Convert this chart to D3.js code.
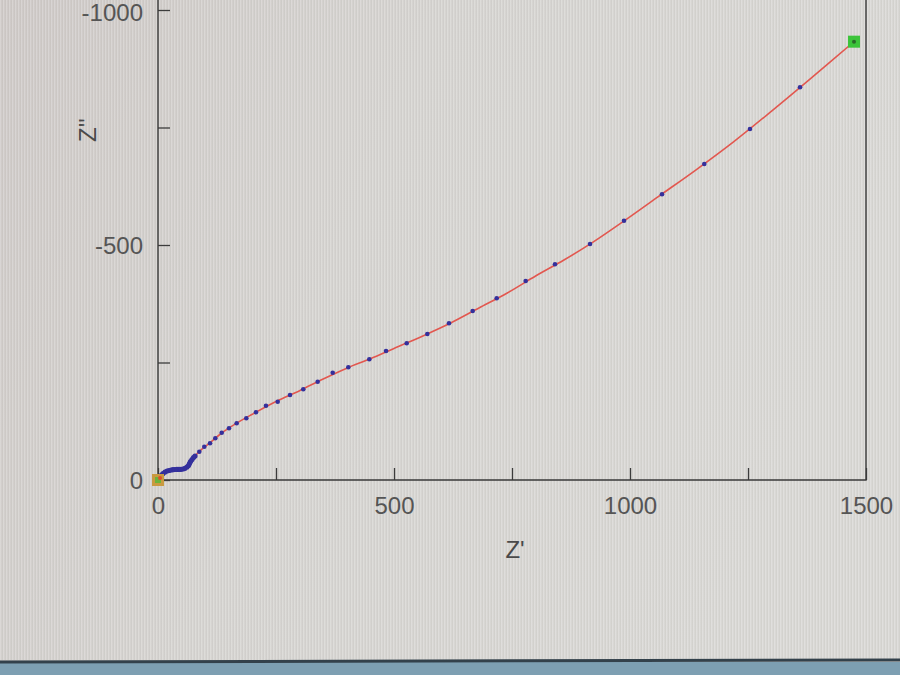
<!DOCTYPE html>
<html>
<head>
<meta charset="utf-8">
<script src="https://cdn.jsdelivr.net/npm/d3@7/dist/d3.min.js"></script>
<style>
    html, body { margin: 0; padding: 0; background: #d3d1ce; }
    svg { display: block; }
    .axis text { font-family: "Liberation Sans", Arial, sans-serif; font-size: 24px; fill: #555555; }
    .axis line { stroke: #3c3c3c; stroke-width: 1.3; }
    .axis-title { font-family: "Liberation Sans", Arial, sans-serif; font-size: 24px; fill: #4a4a4a; }
</style>
</head>
<body>
<svg id="chart" width="900" height="675"></svg>
<script>
// Nyquist 플롯 (Z' vs Z'') — 측정점(파랑) + 피팅 곡선(빨강)
(function () {
    // 측정값: Z' (ohm)
    var measRe = [
        2.1, 4.2, 7.4, 10.6, 14.8, 19.1, 23.3, 27.5, 31.8, 36.0, 40.3, 44.5, 48.7, 53.0,
        57.2, 61.4, 64.6, 66.7, 68.9, 72.0, 75.2, 78.4, 87.5, 98.1, 110.2, 121.4, 135.0,
        150.4, 166.7, 187.1, 207.6, 228.8, 253.6, 279.7, 307.8, 338.3, 370.1, 403.2,
        447.7, 483.1, 526.9, 570.6, 616.5, 666.7, 717.6, 779.0, 841.1, 915.3, 987.3,
        1067.8, 1157.4, 1254.2, 1360.2
    ];
    // 측정값: Z'' (ohm, 음수)
    var measIm = [
        -4.3, -7.4, -10.6, -13.8, -17.0, -19.1, -20.2, -21.3, -21.9, -22.3, -22.6, -22.6, -22.8, -23.4,
        -24.9, -27.7, -30.9, -35.1, -39.4, -43.6, -47.9, -51.1, -60.2, -70.9, -78.1, -88.7, -100.6,
        -110.0, -120.6, -131.3, -144.0, -158.1, -166.6, -180.9, -193.0, -209.1, -228.3, -239.8,
        -256.8, -274.5, -290.9, -310.6, -333.4, -359.6, -386.6, -423.4, -458.9, -502.1, -551.7,
        -607.9, -672.3, -746.8, -835.5
    ];

    // 피팅 곡선
    var fitRe = [0, 8, 20, 35, 50, 60, 68, 76, 90, 110, 135, 165, 200, 250, 300, 350, 400, 450,
        500, 560, 620, 680, 740, 800, 860, 920, 990, 1060, 1140, 1220, 1300, 1380, 1475];
    var fitIm = [0, -12, -19, -22, -23, -26, -36, -48, -63, -79, -100, -120, -140, -167, -190, -215,
        -238, -258, -280, -306, -334, -366, -398, -434, -468, -505, -553, -603, -660, -720, -785,
        -852, -933];

    // 시작/끝 마커
    var startPt = [0, 0];
    var endPt = [1474.6, -932.6];

    var xTicks = [0, 250, 500, 750, 1000, 1250, 1500];
    var yTicks = [0, -250, -500, -750, -1000];

    var W = 900, H = 675;
    var $svg = d3.select('#chart');

    // 배경 (모니터 사진 느낌)
    var defs = $svg.append('defs');
    var bg = defs.append('linearGradient').attr('id', 'bgGrad')
        .attr('x1', 0).attr('y1', 0).attr('x2', 1).attr('y2', 0.3);
    bg.append('stop').attr('offset', '0%').attr('stop-color', '#cfcac8');
    bg.append('stop').attr('offset', '45%').attr('stop-color', '#d6d4d1');
    bg.append('stop').attr('offset', '100%').attr('stop-color', '#d9d8d5');
    var pat = defs.append('pattern').attr('id', 'moire')
        .attr('width', 3).attr('height', 4).attr('patternUnits', 'userSpaceOnUse');
    pat.append('rect').attr('width', 1).attr('height', 4).attr('fill', '#ffffff').attr('opacity', 0.18);
    pat.append('rect').attr('x', 2).attr('width', 1).attr('height', 4).attr('fill', '#8a8580').attr('opacity', 0.08);

    $svg.append('rect').attr('width', W).attr('height', H).attr('fill', 'url(#bgGrad)');
    $svg.append('rect').attr('width', W).attr('height', 660).attr('fill', 'url(#moire)');

    // 하단 작업표시줄
    $svg.append('rect').attr('x', 0).attr('y', 662).attr('width', W).attr('height', 13).attr('fill', '#7d9fb2');
    $svg.append('line').attr('x1', 0).attr('x2', W).attr('y1', 662).attr('y2', 660)
        .attr('stroke', '#33414b').attr('stroke-width', 3);

    var x = d3.scaleLinear().domain([0, 1500]).range([158, 866]);
    var y = d3.scaleLinear().domain([0, -1000]).range([480, 10]);

    // 축 (눈금 안쪽)
    var xAxis = d3.axisBottom(x).tickValues(xTicks).tickSize(-12).tickSizeOuter(0).tickPadding(17)
        .tickFormat(function (d) { return d % 500 === 0 ? d : ''; });
    var yAxis = d3.axisLeft(y).tickValues(yTicks).tickSize(-12).tickSizeOuter(0).tickPadding(15)
        .tickFormat(function (d) { return d % 500 === 0 ? d : ''; });

    var gx = $svg.append('g').attr('class', 'axis').attr('transform', 'translate(0,480)').call(xAxis);
    var gy = $svg.append('g').attr('class', 'axis').attr('transform', 'translate(158,0)').call(yAxis);
    gx.select('.domain').remove();
    gy.select('.domain').remove();
    gy.selectAll('text').attr('dy', function (d) { return d === -1000 ? '0.45em' : '0.36em'; });

    // 프레임
    $svg.append('path')
        .attr('d', 'M158,-5V480H866V-5')
        .attr('fill', 'none').attr('stroke', '#3a3a3a').attr('stroke-width', 1.4);

    // 축 제목
    $svg.append('text').attr('class', 'axis-title')
        .attr('x', 515).attr('y', 558).attr('text-anchor', 'middle').text("Z'");
    $svg.append('text').attr('class', 'axis-title')
        .attr('transform', 'translate(96,130) rotate(-90)')
        .attr('text-anchor', 'middle').text("Z''");

    // 피팅 곡선
    var fit = fitRe.map(function (v, i) { return [v, fitIm[i]]; });
    var line = d3.line()
        .x(function (d) { return x(d[0]); })
        .y(function (d) { return y(d[1]); })
        .curve(d3.curveCatmullRom);
    $svg.append('path').datum(fit)
        .attr('d', line)
        .attr('fill', 'none').attr('stroke', '#e2574f').attr('stroke-width', 1.6);

    // 측정점
    var meas = measRe.map(function (v, i) { return [v, measIm[i]]; });
    $svg.append('g').selectAll('circle').data(meas).join('circle')
        .attr('cx', function (d) { return x(d[0]); })
        .attr('cy', function (d) { return y(d[1]); })
        .attr('r', function (d) { return d[0] < 80 ? 2.6 : 2.3; })
        .attr('fill', '#34309c');

    // 시작 마커 (주황 사각 + 녹색)
    var sx = x(startPt[0]), sy = y(startPt[1]);
    $svg.append('rect').attr('x', sx - 6).attr('y', sy - 6).attr('width', 12).attr('height', 12)
        .attr('fill', '#c99a40');
    $svg.append('rect').attr('x', sx - 3).attr('y', sy - 3).attr('width', 6).attr('height', 6)
        .attr('fill', '#6cb33c');
    $svg.append('circle').attr('cx', sx + 2).attr('cy', sy - 2).attr('r', 2).attr('fill', '#e0502c');

    // 끝 마커 (녹색 사각)
    var ex = x(endPt[0]), ey = y(endPt[1]);
    $svg.append('rect').attr('x', ex - 6).attr('y', ey - 6).attr('width', 12).attr('height', 12)
        .attr('fill', '#3cc43a');
    $svg.append('circle').attr('cx', ex).attr('cy', ey).attr('r', 2).attr('fill', '#2a6a2a');
})();
</script>
</body>
</html>
